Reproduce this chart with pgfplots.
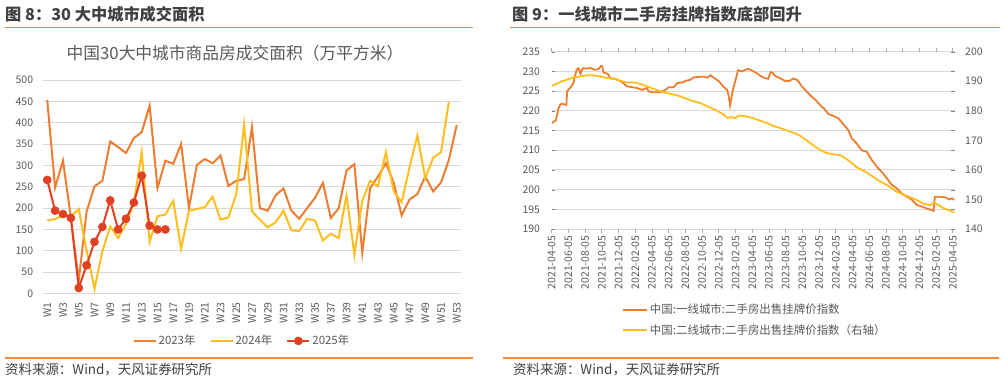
\documentclass[border=0pt]{standalone}
\usepackage{pgfplots}
\pgfplotsset{compat=1.18}
\usepackage{pgfplotstable}
\usepackage{fontspec}
\setmainfont{Noto Sans CJK SC}
\definecolor{cA}{RGB}{238,125,49}
\definecolor{cB}{RGB}{255,190,30}
\definecolor{cC}{RGB}{225,65,35}
\definecolor{ruleC}{RGB}{240,140,60}
\definecolor{tk}{RGB}{89,89,89}
\definecolor{grd}{RGB}{217,217,217}
\definecolor{hd}{RGB}{64,64,64}

\pgfplotstableread{
w y
1 453
2 248
3 311
4 178
5 30
6 192
7 251
8 264
9 356
10 343
11 329
12 364
13 378
14 440
15 247
16 311
17 304
18 350
19 200
20 301
21 315
22 305
23 323
24 252
25 264
26 268
27 390
28 200
29 194
30 230
31 246
32 194
33 175
34 200
35 224
36 259
37 177
38 199
39 288
40 303
41 95
42 247
43 274
44 305
45 259
46 183
47 220
48 233
49 274
50 239
51 260
52 313
53 395
}\tA

\pgfplotstableread{
w y
1 171
2 174
3 185
4 180
5 198
6 100
7 11
8 99
9 157
10 130
11 162
12 212
13 331
14 121
15 181
16 185
17 217
18 105
19 194
20 198
21 202
22 227
23 173
24 178
25 233
26 395
27 192
28 173
29 155
30 167
31 194
32 148
33 146
34 175
35 171
36 124
37 140
38 130
39 230
40 91
41 217
42 264
43 251
44 331
45 239
46 214
47 295
48 370
49 270
50 318
51 331
52 449
}\tB

\pgfplotstableread{
w y
1 266
2 194
3 186
4 177
5 13
6 66
7 121
8 156
9 218
10 150
11 175
12 213
13 276
14 159
15 150
16 150
}\tC

\pgfplotstableread{
m v
0.0 216.9
0.3 217.3
0.5 217.6
0.8 220.5
1.0 221.5
1.2 221.8
1.55 221.6
1.75 221.5
1.85 225.0
2.2 225.8
2.6 227.0
2.8 229.0
3.0 230.5
3.2 230.8
3.45 229.4
3.7 230.8
4.2 230.7
4.6 230.9
4.9 230.6
5.2 230.4
5.6 230.6
5.9 231.4
6.05 231.3
6.2 229.7
6.7 229.4
7.0 228.3
7.6 228.1
8.2 227.6
8.6 227.0
9.0 226.2
9.6 226.0
10.2 225.8
10.8 225.3
11.4 225.8
11.6 224.9
12.2 224.7
13.0 224.7
13.6 225.3
14.0 226.0
14.6 226.0
15.0 227.0
15.6 227.2
16.2 227.7
16.6 227.9
17.0 228.5
17.6 228.6
18.2 228.7
18.6 228.4
19.0 229.0
19.4 228.4
20.0 227.5
20.6 226.0
21.0 225.3
21.2 223.5
21.35 221.4
21.6 224.5
21.8 226.2
22.3 230.3
22.7 230.0
23.1 230.3
23.5 230.7
23.9 230.3
24.5 229.6
25.1 228.7
25.5 228.3
25.9 228.1
26.2 229.8
26.4 229.7
26.7 228.9
27.3 228.3
27.9 227.6
28.5 227.6
28.9 228.2
29.4 227.8
29.9 226.3
30.5 224.9
31.1 223.6
31.7 222.5
32.1 221.5
32.7 220.3
33.1 219.2
33.7 218.7
34.3 218.1
34.9 216.6
35.5 215.1
35.9 213.0
36.5 211.7
37.1 210.0
37.7 209.6
38.3 207.5
38.9 205.8
39.5 204.5
40.1 202.9
40.7 201.2
41.3 200.3
41.9 199.0
42.5 198.2
43.1 197.4
43.7 196.1
44.3 195.7
44.9 195.2
45.5 194.8
45.7 194.6
45.85 198.2
46.5 198.2
47.1 198.0
47.6 197.5
47.9 197.8
48.2 197.4
}\tD

\pgfplotstableread{
m v
0 188.5
0.6 189.1
1.2 190.0
1.8 190.5
2.6 191.3
3.4 191.6
4.2 192.0
5.0 192.0
5.8 191.6
6.6 191.1
7.4 190.8
8.2 190.2
9.0 189.6
9.8 189.6
10.6 189.1
11.4 188.3
12.2 187.4
13.0 186.6
13.8 186.0
14.6 185.5
15.4 184.9
16.2 184.0
17.0 183.2
17.8 182.6
18.4 181.8
19.0 181.0
19.8 180.0
20.6 178.7
21.0 177.6
21.5 177.9
21.9 177.5
22.5 178.4
23.3 178.1
24.1 177.5
24.9 176.7
25.7 175.9
26.5 174.9
27.3 174.2
28.1 173.4
28.9 172.6
29.7 171.6
30.5 170.0
31.3 168.3
32.1 166.8
32.9 165.7
33.5 165.4
34.5 165.0
35.1 164.0
35.7 162.8
36.5 160.9
37.7 159.1
38.9 156.8
40.1 154.9
41.3 152.6
42.5 151.2
43.7 149.8
44.5 148.5
45.3 148.1
45.7 148.9
46.3 148.1
46.9 147.0
47.5 146.4
48.2 145.6
}\tE

\pgfplotsset{
  base/.style={
    scale only axis, anchor=south west,
    axis line style={draw=none},
    major tick length=0pt,
    ymajorgrids, grid style={grd, line width=0.9bp},
    tick label style={font=\fontsize{10.5}{12}\selectfont, text=tk},
    /pgf/number format/assume math mode=true,
    yticklabel style={anchor=east, inner sep=0pt},
  }
}

\begin{document}
\begin{tikzpicture}
\path[use as bounding box] (0bp,0bp) rectangle (1005bp,-381bp);

% ---------- left panel ----------
\node[anchor=west, inner sep=0pt, font=\bfseries\fontsize{16.3}{17}\selectfont, text=hd] at (5bp,-14.5bp) {图 8：30 大中城市成交面积};
\draw[ruleC, line width=1bp] (5bp,-27bp) -- (473bp,-27bp);
\node[inner sep=0pt, font=\fontsize{16.8}{18}\selectfont, text=tk] at (235bp,-53bp) {中国30大中城市商品房成交面积（万平方米）};
\draw[ruleC, line width=1.8bp] (5bp,-357.7bp) -- (473bp,-357.7bp);
\node[anchor=west, inner sep=0pt, font=\fontsize{13.5}{14}\selectfont, text=hd] at (5bp,-370bp) {资料来源：Wind，天风证券研究所};

\begin{axis}[base,
  at={(43.3bp,-293.5bp)}, width=417.4bp, height=213.5bp,
  xmin=0.5, xmax=53.5, ymin=0, ymax=500,
  ytick={0,50,...,500},
  yticklabel shift=10bp,
  xtick={1,3,...,53},
  xticklabels={W1,W3,W5,W7,W9,W11,W13,W15,W17,W19,W21,W23,W25,W27,W29,W31,W33,W35,W37,W39,W41,W43,W45,W47,W49,W51,W53},
  xticklabel style={rotate=90, anchor=east, inner sep=0pt},
  xticklabel shift=8.5bp,
  legend style={at={(0.476,-0.222)}, anchor=center, legend columns=3, draw=none, fill=none,
    font=\fontsize{11.5}{13}\selectfont, text=tk, inner sep=0pt,
    /tikz/every even column/.append style={column sep=12bp}},
  legend image code/.code={\draw[mark repeat=2,mark phase=2,#1] plot coordinates {(0bp,0bp) (11bp,0bp) (22bp,0bp)};},
]
\addplot[cA, line width=2bp] table[x=w,y=y]{\tA};
\addlegendentry{2023年}
\addplot[cB, line width=2bp] table[x=w,y=y]{\tB};
\addlegendentry{2024年}
\addplot[cC, line width=2bp, mark=*, mark size=3.3bp, mark options={fill=cC, draw=cC}] table[x=w,y=y]{\tC};
\addlegendentry{2025年}
\end{axis}

% ---------- right panel ----------
\node[anchor=west, inner sep=0pt, font=\bfseries\fontsize{16.3}{17}\selectfont, text=hd] at (512bp,-14.5bp) {图 9：一线城市二手房挂牌指数底部回升};
\draw[ruleC, line width=1bp] (510bp,-27bp) -- (1000bp,-27bp);
\draw[ruleC, line width=1.8bp] (503bp,-357.7bp) -- (999bp,-357.7bp);
\node[anchor=west, inner sep=0pt, font=\fontsize{13.5}{14}\selectfont, text=hd] at (513bp,-370bp) {资料来源：Wind，天风证券研究所};

\begin{axis}[base,
  at={(551.7bp,-229bp)}, width=402.8bp, height=177.3bp,
  xmin=0, xmax=48.2, ymin=190, ymax=235,
  ytick={190,195,...,235},
  yticklabel shift=11.5bp,
  xtick={0,2,...,48},
  xticklabels={2021-04-05,2021-06-05,2021-08-05,2021-10-05,2021-12-05,2022-02-05,2022-04-05,2022-06-05,2022-08-05,2022-10-05,2022-12-05,2023-02-05,2023-04-05,2023-06-05,2023-08-05,2023-10-05,2023-12-05,2024-02-05,2024-04-05,2024-06-05,2024-08-05,2024-10-05,2024-12-05,2025-02-05,2025-04-05},
  xtick style={draw=grd!80!black, line width=0.8bp},
  xtick align=outside, major tick length=3.5bp,
  xticklabel style={rotate=90, anchor=east, inner sep=0pt},
  xticklabel shift=3bp,
  legend style={at={(0.1745,-0.412)}, anchor=north west, legend columns=1, draw=none, fill=none,
    font=\fontsize{11.5}{13}\selectfont, text=tk, inner sep=0pt, row sep=5bp},
  legend cell align=left,
  legend image code/.code={\draw[#1] (0bp,0bp) -- (24bp,0bp);},
]
\addplot[cA, line width=1.8bp] table[x=m,y=v]{\tD};
\addlegendentry{中国:一线城市:二手房出售挂牌价指数}
\addlegendimage{cB, line width=1.8bp}
\addlegendentry{中国:二线城市:二手房出售挂牌价指数（右轴）}
\end{axis}

\begin{axis}[base,
  at={(551.7bp,-229bp)}, width=402.8bp, height=177.3bp,
  xmin=0, xmax=48.2, ymin=140, ymax=200,
  ymajorgrids=false,
  axis y line*=right, axis x line=none,
  ytick={140,150,...,200},
  yticklabel style={anchor=west, inner sep=0pt},
  yticklabel shift=10.5bp,
  xtick=\empty,
]
\addplot[cB, line width=1.8bp] table[x=m,y=v]{\tE};
\end{axis}
\end{tikzpicture}
\end{document}
